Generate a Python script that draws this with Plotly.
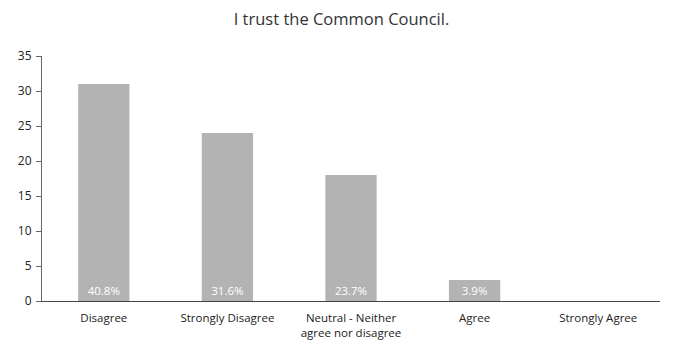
import plotly.graph_objects as go

categories = ["Disagree", "Strongly Disagree", "Neutral - Neither<br>agree nor disagree", "Agree", "Strongly Agree"]
counts = [31, 24, 18, 3, 0]
percent_labels = ["40.8%", "31.6%", "23.7%", "3.9%", ""]
y_ticks = [0, 5, 10, 15, 20, 25, 30, 35]

fig = go.Figure(go.Bar(
    x=categories,
    y=counts,
    text=percent_labels,
    textposition="inside",
    insidetextanchor="start",
    textfont=dict(color="white", size=11.5, family="Open Sans"),
    marker=dict(color="#b3b3b3", line=dict(width=0)),
    cliponaxis=False,
))

fig.update_layout(
    width=683, height=349,
    margin=dict(l=42, r=23, t=56, b=48),
    paper_bgcolor="white", plot_bgcolor="white",
    title=dict(text="I trust the Common Council.", x=0.5, xanchor="center", y=0.945, yanchor="middle",
               font=dict(family="Open Sans", size=16.5, color="#333333")),
    bargap=0.585,
    showlegend=False,
    font=dict(family="Open Sans", color="#222222"),
)
fig.update_xaxes(showline=True, linecolor="#444444", linewidth=1, showgrid=False,
                 tickfont=dict(size=11.5, color="#222222"), ticks="", ticklabelstandoff=6,
                 automargin=False, fixedrange=True)
fig.update_yaxes(range=[0, 35], tickvals=y_ticks, showline=True, linecolor="#666666", linewidth=1,
                 ticks="outside", ticklen=5, tickcolor="#666666", showgrid=False, zeroline=False,
                 ticklabelstandoff=2, automargin=False, tickfont=dict(size=12, color="#222222"))

fig.write_html("out.html")
